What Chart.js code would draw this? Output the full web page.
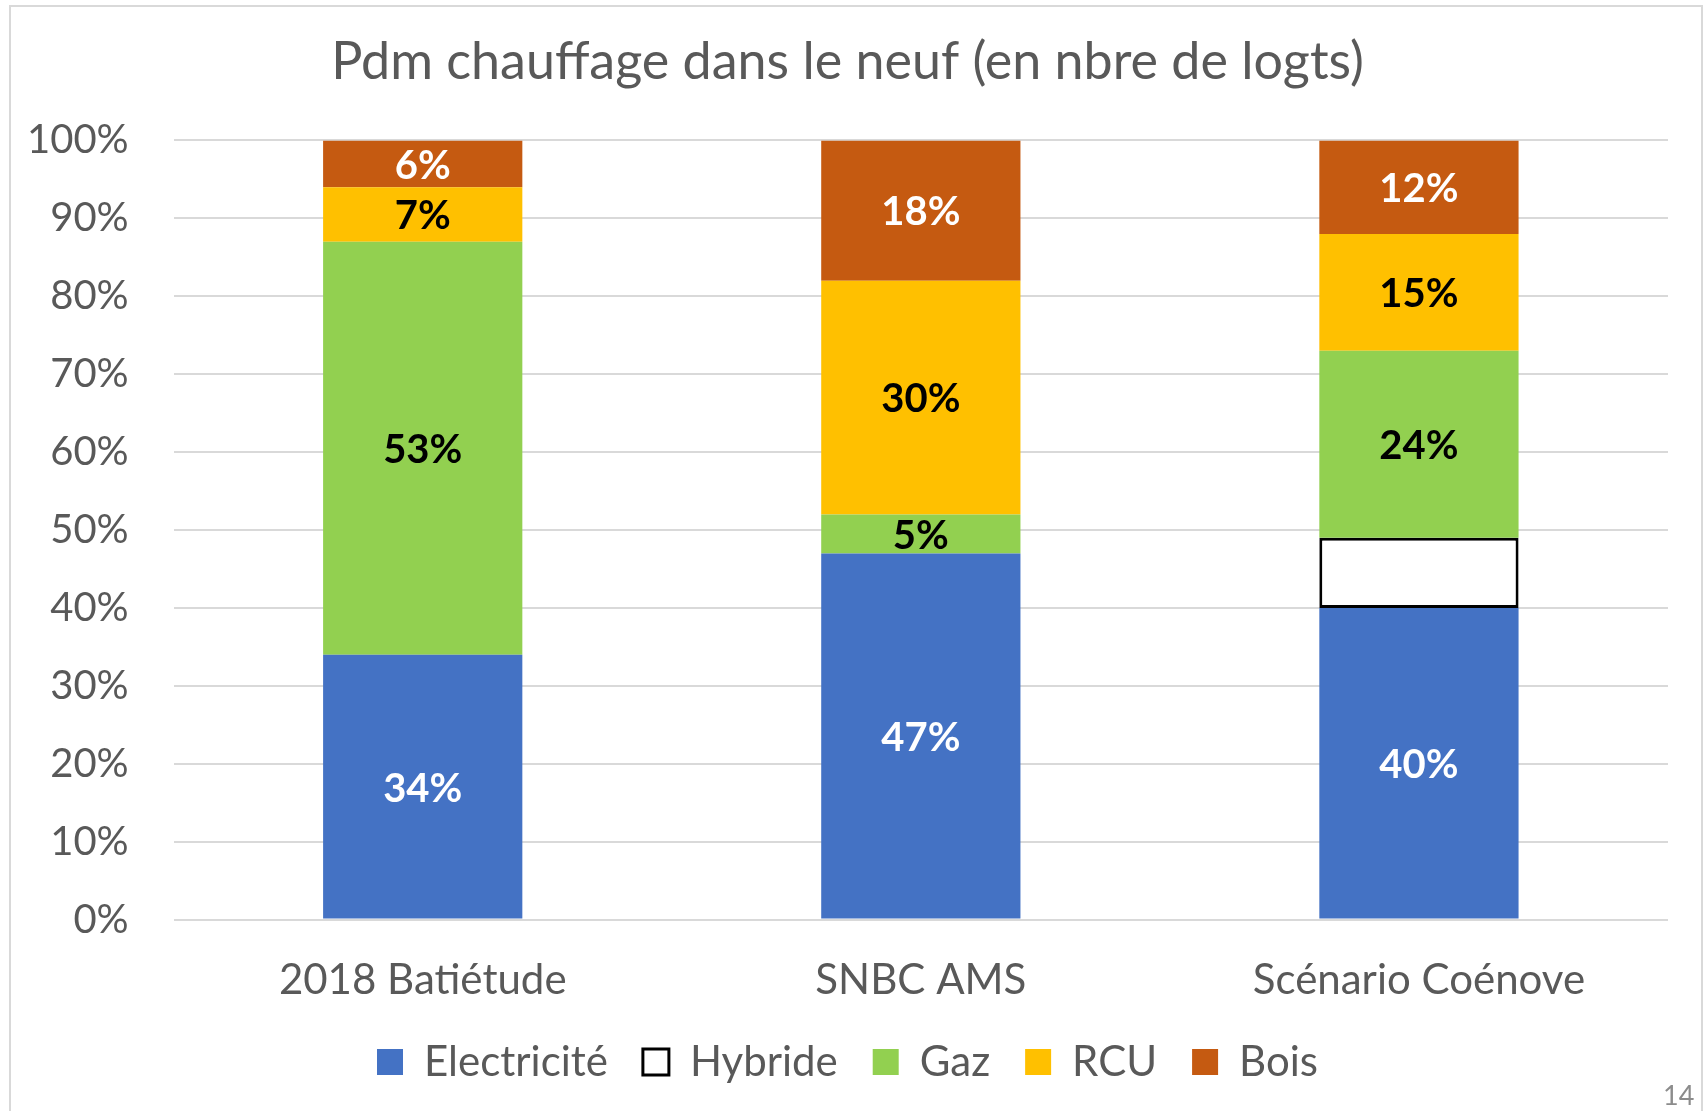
<!DOCTYPE html>
<html>
<head>
<meta charset="utf-8">
<script src="https://cdn.jsdelivr.net/npm/chart.js@4"></script>
<style>
  body { margin: 0; background: #fff; }
  .wrap { position: relative; width: 1704px; height: 1111px; overflow: hidden; }
  .frame { position: absolute; left: 9px; top: 5px; width: 1690px; height: 1200px; border: 2px solid #d9d9d9; pointer-events: none; }
  .page { position: absolute; left: 1663px; top: 1078px; font: 27px Lato, sans-serif; color: #8c8c8c; }
</style>
</head>
<body>
<div class="wrap">
  <canvas id="myChart" width="1704" height="1111"></canvas>
  <div class="frame"></div>
  <div class="page">14</div>
</div>
<script>
const categories = ['2018 Batiétude', 'SNBC AMS', 'Scénario Coénove'];
const electricite = [34, 47, 40];
const hybride = [0, 0, 9];
const gaz = [53, 5, 24];
const rcu = [7, 30, 15];
const bois = [6, 18, 12];
const yTicks = [0, 10, 20, 30, 40, 50, 60, 70, 80, 90, 100];

const grey = '#595959';
const fam = 'Lato, "Open Sans", sans-serif';

// labels au centre de chaque segment
const barLabels = {
    id: 'barLabels',
    afterDatasetsDraw(chart) {
        const ctx = chart.ctx;
        ctx.save();
        ctx.font = 'bold 40px ' + fam;
        ctx.textAlign = 'center';
        ctx.textBaseline = 'middle';
        chart.data.datasets.forEach((ds, i) => {
            if (!ds.labelColor) return;
            chart.getDatasetMeta(i).data.forEach((bar, j) => {
                const v = ds.data[j];
                if (!v) return;
                const p = bar.getProps(['x', 'y', 'base'], true);
                ctx.fillStyle = ds.labelColor;
                ctx.fillText(v + '%', p.x, (p.y + p.base) / 2 + 2);
            });
        });
        ctx.restore();
    }
};

const ctx = document.getElementById('myChart');
new Chart(ctx, {
    type: 'bar',
    data: {
        labels: categories,
        datasets: [
            { label: 'Electricité', data: electricite, backgroundColor: '#4472c4', borderWidth: 0, labelColor: '#ffffff' },
            { label: 'Hybride', data: hybride, backgroundColor: '#ffffff', borderColor: '#000000', borderWidth: 3, borderSkipped: false },
            { label: 'Gaz', data: gaz, backgroundColor: '#92d050', borderWidth: 0, labelColor: '#000000' },
            { label: 'RCU', data: rcu, backgroundColor: '#ffc000', borderWidth: 0, labelColor: '#000000' },
            { label: 'Bois', data: bois, backgroundColor: '#c55a11', borderWidth: 0, labelColor: '#ffffff' }
        ]
    },
    options: {
        responsive: false,
        animation: false,
        devicePixelRatio: 1,
        categoryPercentage: 0.8,
        barPercentage: 0.5,
        layout: { padding: { left: 27, right: 36, top: 21, bottom: 18 } },
        scales: {
            x: {
                stacked: true,
                grid: { display: false, drawTicks: false },
                border: { display: false },
                ticks: { color: grey, padding: 36, font: { family: fam, size: 42 } },
                // chart.js compte le padding deux fois
                afterFit: (axis) => { axis.height -= axis.options.ticks.padding; }
            },
            y: {
                stacked: true,
                min: 0,
                max: 100,
                afterBuildTicks: (axis) => { axis.ticks = yTicks.map(v => ({ value: v })); },
                grid: { color: '#d9d9d9', lineWidth: 2, drawTicks: false },
                border: { display: false },
                ticks: { color: grey, padding: 45, font: { family: fam, size: 40 }, callback: v => v + '%' },
                afterFit: (axis) => { axis.width -= axis.options.ticks.padding; }
            }
        },
        plugins: {
            title: {
                display: true,
                text: 'Pdm chauffage dans le neuf (en nbre de logts)',
                color: grey,
                font: { family: fam, size: 52, weight: 'normal' },
                padding: { top: 10, bottom: 47 }
            },
            legend: {
                position: 'bottom',
                labels: {
                    color: grey,
                    boxWidth: 26,
                    boxHeight: 26,
                    padding: 35,
                    font: { family: fam, size: 42 }
                }
            },
            tooltip: { enabled: false }
        }
    },
    plugins: [barLabels]
});
</script>
</body>
</html>
